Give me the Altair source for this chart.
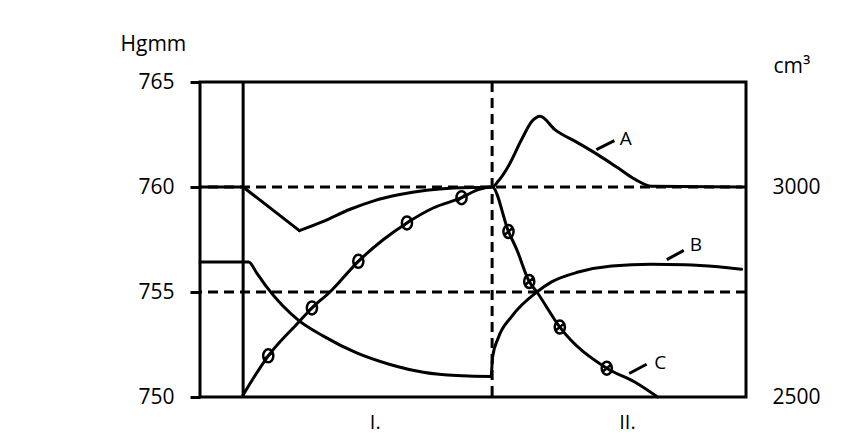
import altair as alt
import pandas as pd

FONT = "Open Sans"

# --- data (time in arbitrary units 0..100, pressure in Hgmm) ---
A_t = [0, 7.9, 18.2, 22.6, 27.5, 31.7, 36.6, 41.5, 46.4, 53.5, 54.6, 56.5, 58.9, 60.8, 62.3, 65.0, 69.3, 72.9, 76.6, 79.7, 82.7, 99.2]
A_v = [760, 760, 757.92, 758.36, 758.94, 759.33, 759.64, 759.84, 759.95, 760.0, 760.27, 761.0, 762.26, 763.13, 763.37, 762.73, 762.09, 761.53, 760.9, 760.36, 760.04, 760]
A_knee = 2  # index of the sharp minimum (drawn with straight segments before it)

B_t = [0, 8.9, 10.4, 12.2, 18.0, 22.6, 28.7, 34.8, 40.9, 47.0, 53.3, 53.6, 54.6, 57.1, 61.7, 64.4, 69.3, 75.4, 82.7, 88.8, 94.9, 99.2]
B_v = [756.43, 756.43, 755.9, 755.24, 753.66, 752.9, 752.1, 751.55, 751.18, 751.02, 750.98, 751.92, 752.8, 753.84, 755.0, 755.48, 755.95, 756.24, 756.32, 756.3, 756.2, 756.08]

C_t = [7.9, 12.5, 18.2, 20.5, 23.8, 29.0, 33.6, 37.9, 42.7, 47.9, 50.7, 53.5, 56.5, 58.0, 60.3, 61.7, 65.9, 74.5, 79.7, 83.8]
C_v = [750.1, 751.96, 753.6, 754.24, 755.0, 756.46, 757.5, 758.29, 759.0, 759.49, 759.85, 760.0, 757.88, 757.03, 755.5, 755.0, 753.33, 751.37, 750.7, 750.0]

C_mark_t = [12.5, 20.5, 29.0, 37.9, 47.9, 56.5, 60.3, 65.9, 74.5]
C_mark_v = [751.96, 754.24, 756.46, 758.29, 759.49, 757.88, 755.5, 753.33, 751.37]

series_names = ["A", "B", "C"]
label_t = [76.9, 89.7, 83.2]
label_v = [762.27, 757.25, 751.6]
leader_t1 = [72.6, 85.5, 78.6]
leader_t2 = [75.9, 88.6, 81.8]
leader_v1 = [761.78, 756.54, 751.12]
leader_v2 = [762.21, 756.98, 751.56]

hlines = [760, 755]
start_t = [7.9]
switch_t = [53.5]

left_ticks = [750, 755, 760, 765]
right_tick_pos = [760, 750]
right_tick_labels = ["3000", "2500"]
phase_pos = [32.0, 78.2]
phase_labels = ["I.", "II."]

xs = alt.Scale(domain=[0, 100], nice=False, zero=False)
ys = alt.Scale(domain=[750, 765], nice=False, zero=False)

def df(t, v):
    return pd.DataFrame({"t": t, "v": v})

right_expr = " : ".join(
    [f"datum.value == {p} ? '{l}'" for p, l in zip(right_tick_pos[:-1], right_tick_labels[:-1])]
    + [f"'{right_tick_labels[-1]}'"]
)
phase_expr = f"datum.value < 50 ? '{phase_labels[0]}' : '{phase_labels[1]}'"

x_axis = alt.Axis(values=phase_pos, labelExpr=phase_expr, ticks=False, domain=False,
                  grid=False, title=None, labelFont=FONT, labelFontSize=20,
                  labelColor="black", labelPadding=15)
y_left = alt.Axis(values=left_ticks, tickSize=10, tickWidth=3, tickColor="black",
                  domain=False, grid=False, labelFont=FONT, labelFontSize=21,
                  labelColor="black", labelPadding=16, title="Hgmm", titleAngle=0,
                  titleX=-80, titleY=-32, titleAlign="left", titleBaseline="alphabetic",
                  titleFont=FONT, titleFontSize=21, titleFontWeight="normal",
                  titleColor="black")
y_right = alt.Axis(orient="right", values=right_tick_pos, labelExpr=right_expr,
                   ticks=False, domain=False, grid=False, labelFont=FONT,
                   labelFontSize=21, labelColor="black", labelPadding=26,
                   title="cm³", titleAngle=0, titleX=27, titleY=-10,
                   titleAlign="left", titleBaseline="alphabetic", titleFont=FONT,
                   titleFontSize=21, titleFontWeight="normal", titleColor="black")

W = 3
X = alt.X("t:Q", scale=xs, axis=x_axis)

hrules = alt.Chart(pd.DataFrame({"v": hlines})).mark_rule(
    color="black", strokeWidth=W, strokeDash=[10, 6]
).encode(y=alt.Y("v:Q", scale=ys, axis=y_left))

vsolid = alt.Chart(pd.DataFrame({"t": start_t})).mark_rule(
    color="black", strokeWidth=W
).encode(x=X)

vdash = alt.Chart(pd.DataFrame({"t": switch_t})).mark_rule(
    color="black", strokeWidth=W, strokeDash=[10, 6]
).encode(x=X)

def curve(t, v, interp):
    return alt.Chart(df(t, v)).mark_line(
        color="black", strokeWidth=W, interpolate=interp, strokeJoin="round", strokeCap="round"
    ).encode(x=X, y=alt.Y("v:Q", scale=ys, axis=None))

lineA1 = curve(A_t[:A_knee + 1], A_v[:A_knee + 1], "linear")
lineA2 = curve(A_t[A_knee:], A_v[A_knee:], "monotone")
lineB = curve(B_t, B_v, "monotone")
lineC = curve(C_t, C_v, "monotone")

marker_shape = "M0,-1A0.78,1,0,1,1,0,1A0.78,1,0,1,1,0,-1Z M-0.55,0.45L0.55,-0.45"
markers = alt.Chart(df(C_mark_t, C_mark_v)).mark_point(
    shape=marker_shape, size=170, filled=False, stroke="black", strokeWidth=2.5, opacity=1
).encode(x=X, y=alt.Y("v:Q", scale=ys, axis=None))

leaders = alt.Chart(pd.DataFrame({"t1": leader_t1, "t2": leader_t2,
                                  "v1": leader_v1, "v2": leader_v2})).mark_rule(
    color="black", strokeWidth=3
).encode(x=alt.X("t1:Q", scale=xs, axis=x_axis), x2="t2:Q",
         y=alt.Y("v1:Q", scale=ys, axis=None), y2="v2:Q")

labels = alt.Chart(pd.DataFrame({"t": label_t, "v": label_v, "s": series_names})).mark_text(
    font=FONT, fontSize=19, align="left", baseline="middle", color="black"
).encode(x=X, y=alt.Y("v:Q", scale=ys, axis=None), text="s:N")

right_axis_layer = alt.Chart(pd.DataFrame({"v": [760]})).mark_rule(opacity=0).encode(
    y=alt.Y("v:Q", scale=ys, axis=y_right)
)

chart = alt.layer(
    hrules, vsolid, vdash, lineA1, lineA2, lineB, lineC, markers, leaders, labels, right_axis_layer
).resolve_scale(y="independent").properties(
    width=546, height=315,
    autosize=alt.AutoSizeParams(type="none"),
    padding={"left": 192, "top": 74, "right": 96, "bottom": 42},
).configure(background="white").configure_view(stroke="black", strokeWidth=3)

chart.save("out.html", embed_options={"renderer": "svg", "actions": False})
